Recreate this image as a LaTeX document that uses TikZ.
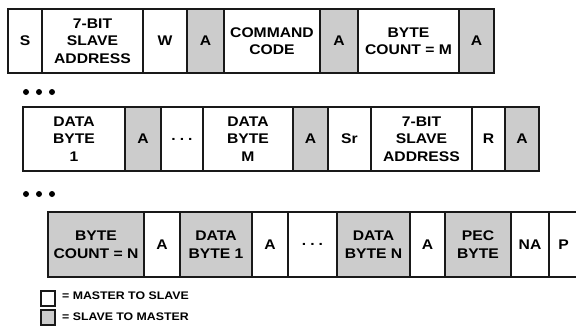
\documentclass[tikz,border=0pt]{standalone}
\usepackage{fontspec}
\newfontfamily\dfont[FakeStretch=1.12]{Liberation Sans}
\definecolor{slavegray}{gray}{0.8}
\definecolor{edgec}{gray}{0.1}
% \mycell{name}{x1}{x2}{y1}{y2}{style}{text}
\newcommand\mycell[7]{%
  \node[#6, minimum width={(#3-#2)*1pt}, minimum height={(#5-#4)*1pt}]
    (#1) at ({(#2+#3)/2},{-(#4+#5)/2}) {#7};}
\newcommand\mydots{.\hspace{4pt}.\hspace{4pt}.}
\begin{document}
\begin{tikzpicture}[x=1pt,y=1pt,
  cellbase/.style={draw=edgec, line width=1.7pt, inner sep=0pt, outer sep=0pt,
    align=center, text=black, font=\dfont\bfseries\fontsize{14}{17.5}\selectfont},
  wbox/.style={cellbase, fill=white},
  gbox/.style={cellbase, fill=slavegray},
  legbox/.style={draw=edgec, line width=1.2pt, inner sep=0pt, outer sep=0pt,
    minimum width=14pt, minimum height=15pt},
  legtext/.style={anchor=west, inner sep=0pt, text=black,
    font=\dfont\bfseries\fontsize{11}{13}\selectfont},
  dotc/.style={fill=black}]
\clip (0,0) rectangle (576,-327);
% row 1
\mycell{a1}{8}{42}{9}{73}{wbox}{S}
\mycell{a2}{42}{143}{9}{73}{wbox}{7-BIT\\SLAVE\\ADDRESS}
\mycell{a3}{143}{187}{9}{73}{wbox}{W}
\mycell{a4}{187}{224}{9}{73}{gbox}{A}
\mycell{a5}{224}{320}{9}{73}{wbox}{COMMAND\\CODE}
\mycell{a6}{320}{358}{9}{73}{gbox}{A}
\mycell{a7}{358}{459}{9}{73}{wbox}{BYTE\\COUNT = M}
\mycell{a8}{459}{494}{9}{73}{gbox}{A}
% dots 1
\fill[dotc] (26,-92) circle (3);
\fill[dotc] (39,-92) circle (3);
\fill[dotc] (52,-92) circle (3);
% row 2
\mycell{b1}{23}{125}{107}{171}{wbox}{DATA\\BYTE\\1}
\mycell{b2}{125}{161}{107}{171}{gbox}{A}
\mycell{b3}{161}{203}{107}{171}{wbox}{\mydots}
\mycell{b4}{203}{293}{107}{171}{wbox}{DATA\\BYTE\\M}
\mycell{b5}{293}{328}{107}{171}{gbox}{A}
\mycell{b6}{328}{371}{107}{171}{wbox}{Sr}
\mycell{b7}{371}{472}{107}{171}{wbox}{7-BIT\\SLAVE\\ADDRESS}
\mycell{b8}{472}{505}{107}{171}{wbox}{R}
\mycell{b9}{505}{539}{107}{171}{gbox}{A}
% dots 2
\fill[dotc] (26,-194) circle (3);
\fill[dotc] (39,-194) circle (3);
\fill[dotc] (52,-194) circle (3);
% row 3
\mycell{c1}{48}{144}{212}{277}{gbox}{BYTE\\COUNT = N}
\mycell{c2}{144}{180}{212}{277}{wbox}{A}
\mycell{c3}{180}{252}{212}{277}{gbox}{DATA\\BYTE 1}
\mycell{c4}{252}{288}{212}{277}{wbox}{A}
\mycell{c5}{288}{337}{212}{277}{wbox}{\mydots}
\mycell{c6}{337}{410}{212}{277}{gbox}{DATA\\BYTE N}
\mycell{c7}{410}{445}{212}{277}{wbox}{A}
\mycell{c8}{445}{511}{212}{277}{gbox}{PEC\\BYTE}
\mycell{c9}{511}{549}{212}{277}{wbox}{NA}
\mycell{c10}{549}{578}{212}{277}{wbox}{P}
% legend
\node[legbox, fill=white] (lw) at (48,-298.5) {};
\node[legtext] (lwt) at (62,-296) {= MASTER TO SLAVE};
\node[legbox, fill=slavegray] (lg) at (48,-317.5) {};
\node[legtext] (lgt) at (62,-317) {= SLAVE TO MASTER};
\end{tikzpicture}
\end{document}
